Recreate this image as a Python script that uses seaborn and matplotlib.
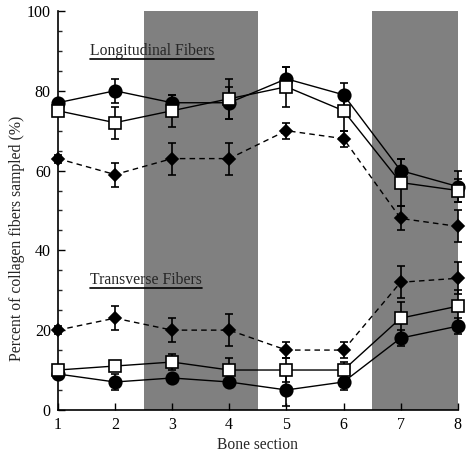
import numpy as np
import pandas as pd
import matplotlib
matplotlib.use("Agg")
import matplotlib.pyplot as plt
import seaborn as sns
from matplotlib.ticker import MultipleLocator

sections = [1, 2, 3, 4, 5, 6, 7, 8]

long_circle = [77, 80, 77, 77, 83, 79, 60, 56]
long_circle_err = [1, 3, 2, 4, 3, 3, 3, 4]
long_square = [75, 72, 75, 78, 81, 75, 57, 55]
long_square_err = [1, 4, 4, 5, 5, 5, 6, 3]
long_diamond = [63, 59, 63, 63, 70, 68, 48, 46]
long_diamond_err = [1, 3, 4, 4, 2, 2, 3, 4]

trans_diamond = [20, 23, 20, 20, 15, 15, 32, 33]
trans_diamond_err = [1, 3, 3, 4, 2, 2, 4, 4]
trans_square = [10, 11, 12, 10, 10, 10, 23, 26]
trans_square_err = [1, 1, 2, 3, 3, 2, 4, 4]
trans_circle = [9, 7, 8, 7, 5, 7, 18, 21]
trans_circle_err = [1, 2, 1, 1, 4, 2, 2, 2]

shade_spans = [(2.5, 4.5), (6.5, 8.0)]
y_ticks = [0, 20, 40, 60, 80, 100]

sns.set_style("ticks")
plt.rcParams['font.family'] = ['Liberation Serif', 'DejaVu Serif']
plt.rcParams['font.size'] = 11.5

fig = plt.figure(figsize=(4.70, 4.58), dpi=100)
ax = fig.add_axes([0.123, 0.105, 0.851, 0.871])

for a, b in shade_spans:
    ax.axvspan(a, b, color="#808080", lw=0, zorder=0)

series = [
    (long_diamond, long_diamond_err, "D", "black", (0, (4, 3)), 6.5),
    (trans_diamond, trans_diamond_err, "D", "black", (0, (4, 3)), 6.5),
    (long_circle, long_circle_err, "o", "black", "-", 9.0),
    (trans_circle, trans_circle_err, "o", "black", "-", 9.0),
    (long_square, long_square_err, "s", "white", "-", 8.5),
    (trans_square, trans_square_err, "s", "white", "-", 8.5),
]

for i, (vals, errs, mk, fc, ls, ms) in enumerate(series):
    df = pd.DataFrame({"section": sections, "value": vals})
    ax.errorbar(sections, vals, yerr=errs, fmt="none", ecolor="black",
                elinewidth=1.2, capsize=3, capthick=1.2, zorder=2 + i, clip_on=False)
    sns.lineplot(data=df, x="section", y="value", ax=ax, color="black",
                 linestyle=ls, lw=1.0, marker=mk, markersize=ms,
                 markerfacecolor=fc, markeredgecolor="black", markeredgewidth=1.2,
                 zorder=3 + i, clip_on=False)

ax.set_xlim(1, 8)
ax.set_ylim(0, 100)
ax.set_xticks(sections)
ax.set_yticks(y_ticks)
ax.yaxis.set_minor_locator(MultipleLocator(5))
ax.tick_params(axis="both", which="major", direction="in", length=5, width=1,
               labelsize=11.5, colors="black")
ax.tick_params(axis="y", which="minor", direction="in", length=3, width=1)
ax.tick_params(axis="x", pad=5)
ax.tick_params(axis="y", pad=5)
for s in ["top", "right"]:
    ax.spines[s].set_visible(False)
for s in ["left", "bottom"]:
    ax.spines[s].set_linewidth(1.2)
    ax.spines[s].set_color("black")

ax.set_xlabel("Bone section", fontsize=11.2, labelpad=3)
ax.set_ylabel("Percent of collagen fibers sampled (%)", fontsize=11.3)
ax.yaxis.set_label_coords(-0.083, 0.43)

fig.canvas.draw()
renderer = fig.canvas.get_renderer()
for label, ty in [("Longitudinal Fibers", 88.0), ("Transverse Fibers", 30.6)]:
    t = ax.text(1.56, ty, label, fontsize=11.3, ha="left", va="bottom", zorder=10)
    bb = t.get_window_extent(renderer=renderer)
    inv = ax.transData.inverted()
    (x0, y0), (x1, _) = inv.transform([(bb.x0, bb.y0), (bb.x1, bb.y0)])
    ax.plot([x0, x1], [y0, y0], color="black", lw=1.2, zorder=10)

fig.savefig("out.png", dpi=100)
